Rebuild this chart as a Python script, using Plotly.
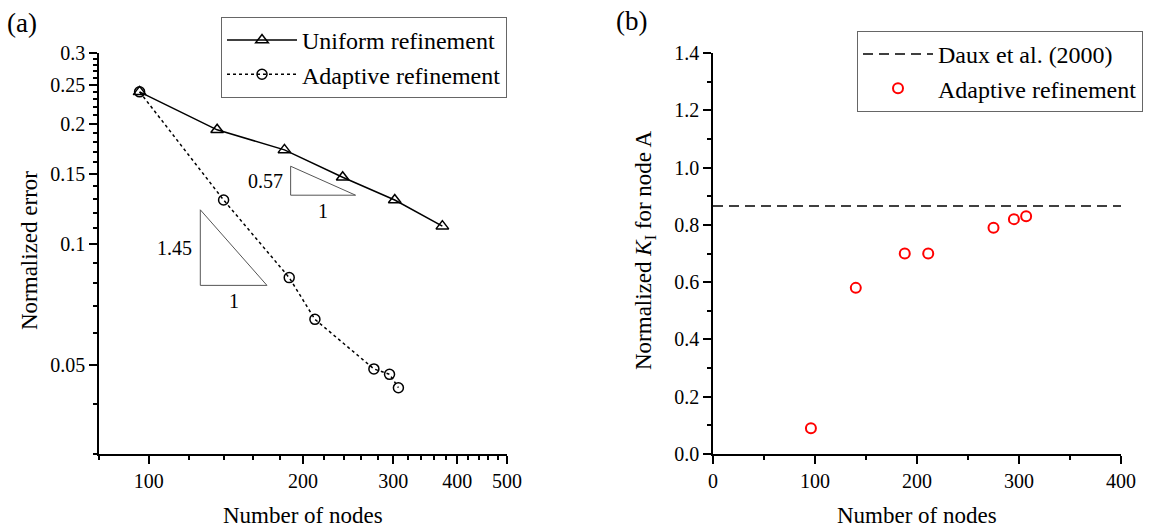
import math
import plotly.graph_objects as go

# ---- data ----
uniform_nodes = [96, 136, 184, 239, 302, 374]
uniform_error = [0.240, 0.193, 0.172, 0.147, 0.129, 0.111]

adaptive_nodes = [96, 140, 188, 211, 275, 295, 307]
adaptive_error = [0.240, 0.129, 0.0826, 0.065, 0.0489, 0.0474, 0.0439]

adaptive_k1 = [0.09, 0.58, 0.70, 0.70, 0.79, 0.82, 0.83]

daux_nodes = [0, 400]
daux_k1 = [0.866, 0.866]

# slope indicators: (corner nodes, corner error, run in decades, slope)
slope_small = (189.2, 0.1326, 0.1267, 0.57)
slope_big = (126.1, 0.0790, 0.13, 1.45)

# tick labels
err_ticks = [0.05, 0.1, 0.15, 0.2, 0.25, 0.3]
err_ticktext = ["0.05", "0.1", "0.15", "0.2", "0.25", "0.3"]
node_ticks_log = [100, 200, 300, 400, 500]

FONT = "Liberation Serif, Times New Roman, Tinos, DejaVu Serif, serif"
W, H = 1150, 531

fig = go.Figure()

# ---- panel (a) ----
fig.add_trace(go.Scatter(
    x=uniform_nodes, y=uniform_error, mode="lines+markers",
    name="Uniform refinement", legend="legend",
    line=dict(color="black", width=1.5),
    marker=dict(symbol="triangle-up-open", size=11, color="black",
                line=dict(width=1.5, color="black")),
    xaxis="x", yaxis="y",
))
fig.add_trace(go.Scatter(
    x=adaptive_nodes, y=adaptive_error, mode="lines+markers",
    name="Adaptive refinement", legend="legend",
    line=dict(color="black", width=1.5, dash="dot"),
    marker=dict(symbol="circle-open", size=10, color="black",
                line=dict(width=1.5, color="black")),
    xaxis="x", yaxis="y",
))

annotations = []
for cx, cy, run, slope in (slope_small, slope_big):
    rx = cx * 10 ** run
    ty = cy * 10 ** (run * slope)
    fig.add_trace(go.Scatter(
        x=[cx, cx, rx, cx], y=[ty, cy, cy, ty], mode="lines",
        line=dict(color="#555555", width=1), showlegend=False,
        hoverinfo="skip", xaxis="x", yaxis="y",
    ))
    annotations.append(dict(
        x=math.log10(cx), y=math.log10(math.sqrt(cy * ty)), xref="x", yref="y",
        text=f"{slope:.2f}", showarrow=False, xanchor="right", yanchor="middle",
        xshift=-6, font=dict(family=FONT, size=20, color="black"),
    ))
    annotations.append(dict(
        x=math.log10(math.sqrt(cx * rx)), y=math.log10(cy), xref="x", yref="y",
        text="1", showarrow=False, xanchor="center", yanchor="top",
        yshift=-3, font=dict(family=FONT, size=20, color="black"),
    ))

# ---- panel (b) ----
fig.add_trace(go.Scatter(
    x=daux_nodes, y=daux_k1, mode="lines", name="Daux et al. (2000)",
    legend="legend2", line=dict(color="black", width=1.5, dash="10px,6px"),
    xaxis="x2", yaxis="y2",
))
fig.add_trace(go.Scatter(
    x=adaptive_nodes, y=adaptive_k1, mode="markers", name="Adaptive refinement",
    legend="legend2",
    marker=dict(symbol="circle-open", size=10, color="red",
                line=dict(width=2, color="red")),
    xaxis="x2", yaxis="y2",
))

ydom = [77 / H, 478 / H]
xdom_a = [99 / W, 507 / W]
xdom_b = [713 / W, 1121 / W]

axis_common = dict(
    showline=True, linecolor="black", linewidth=1.5, mirror=False,
    ticks="outside", ticklen=8, tickwidth=1.5, tickcolor="black",
    showgrid=False, zeroline=False,
    tickfont=dict(family=FONT, size=20, color="black"),
)

minor_x_a = [v for v in range(80, 501, 20) if v not in node_ticks_log]
minor_y_a = [round(0.01 * k, 2) for k in range(3, 31)]
minor_y_a = [v for v in minor_y_a if v not in err_ticks]

legend_common = dict(
    xanchor="left", yanchor="top", bgcolor="white",
    bordercolor="#666666", borderwidth=1,
    font=dict(family=FONT, size=24, color="black"),
    tracegroupgap=0, itemwidth=70,
)

fig.update_layout(
    width=W, height=H,
    margin=dict(l=0, r=0, t=0, b=0, autoexpand=False),
    paper_bgcolor="white", plot_bgcolor="white",
    font=dict(family=FONT, color="black"),
    xaxis=dict(
        domain=xdom_a, type="log", range=[math.log10(80), math.log10(500)],
        tickmode="array", tickvals=node_ticks_log,
        ticktext=[str(v) for v in node_ticks_log], anchor="y",
        minor=dict(tickmode="array", tickvals=minor_x_a, ticks="outside",
                   ticklen=4, tickwidth=1.5, tickcolor="black"),
        **axis_common,
    ),
    yaxis=dict(
        domain=ydom, type="log", range=[math.log10(0.03), math.log10(0.3)],
        tickmode="array", tickvals=err_ticks, ticktext=err_ticktext, anchor="x",
        minor=dict(tickmode="array", tickvals=minor_y_a, ticks="outside",
                   ticklen=4, tickwidth=1.5, tickcolor="black"),
        **axis_common,
    ),
    xaxis2=dict(
        domain=xdom_b, range=[0, 400], tickmode="linear", tick0=0, dtick=100,
        anchor="y2",
        minor=dict(dtick=50, ticks="outside", ticklen=4, tickwidth=1.5,
                   tickcolor="black"),
        **axis_common,
    ),
    yaxis2=dict(
        domain=ydom, range=[0, 1.4], tickmode="linear", tick0=0, dtick=0.2,
        tickformat=".1f", anchor="x2",
        minor=dict(dtick=0.1, ticks="outside", ticklen=4, tickwidth=1.5,
                   tickcolor="black"),
        **axis_common,
    ),
    legend=dict(x=221 / W, y=1 - 17 / H, **legend_common),
    legend2=dict(x=857 / W, y=1 - 31 / H, **legend_common),
    showlegend=True,
)

title_font = dict(family=FONT, size=23, color="black")
annotations += [
    dict(x=(xdom_a[0] + xdom_a[1]) / 2, y=16 / H, xref="paper", yref="paper",
         text="Number of nodes", showarrow=False, font=title_font,
         xanchor="center", yanchor="middle"),
    dict(x=(xdom_b[0] + xdom_b[1]) / 2, y=16 / H, xref="paper", yref="paper",
         text="Number of nodes", showarrow=False, font=title_font,
         xanchor="center", yanchor="middle"),
    dict(x=29 / W, y=1 - 251 / H, xref="paper", yref="paper",
         text="Normalized error", showarrow=False, font=title_font,
         textangle=-90, xanchor="center", yanchor="middle"),
    dict(x=645 / W, y=1 - 250 / H, xref="paper", yref="paper",
         text="Normalized <i>K</i><sub>I</sub> for node A", showarrow=False,
         font=title_font, textangle=-90, xanchor="center", yanchor="middle"),
    dict(x=22 / W, y=1 - 23 / H, xref="paper", yref="paper", text="(a)",
         showarrow=False, font=dict(family=FONT, size=27, color="black"),
         xanchor="center", yanchor="middle"),
    dict(x=631 / W, y=1 - 21 / H, xref="paper", yref="paper", text="(b)",
         showarrow=False, font=dict(family=FONT, size=27, color="black"),
         xanchor="center", yanchor="middle"),
]
fig.update_layout(annotations=annotations)

fig.write_html("out.html")
